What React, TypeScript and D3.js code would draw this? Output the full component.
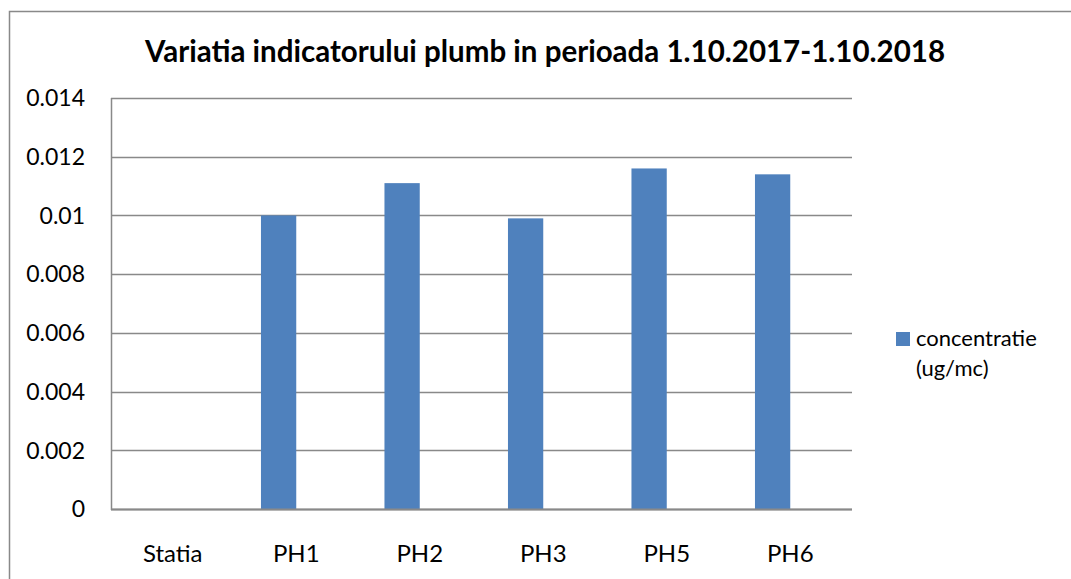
import React from "react";
import * as d3 from "d3";

const categories = ["Statia", "PH1", "PH2", "PH3", "PH5", "PH6"];
const seriesNames = ["concentratie (ug/mc)", "hidden"];
const concentratie: (number | null)[] = [null, 0.01, 0.0111, 0.0099, 0.0116, 0.0114];
const yTicks = [0, 0.002, 0.004, 0.006, 0.008, 0.01, 0.012, 0.014];
const yTickLabels = ["0", "0.002", "0.004", "0.006", "0.008", "0.01", "0.012", "0.014"];
const title = "Variatia indicatorului plumb in perioada 1.10.2017-1.10.2018";
const legendLines = ["concentratie", "(ug/mc)"];

const W = 1071;
const H = 579;
const plot = { left: 111, right: 852, top: 98, bottom: 509 };
const font = "Lato, 'Open Sans', sans-serif";
const barColor = "#4F81BD";
const gridColor = "#898989";

export default function App() {
  const x = d3.scaleBand<string>().domain(categories).range([plot.left, plot.right]).padding(0);
  const xInner = d3
    .scaleBand<string>()
    .domain(seriesNames)
    .range([0, x.bandwidth()])
    .paddingInner(0)
    .paddingOuter(0.75);
  const y = d3.scaleLinear().domain([0, 0.014]).range([plot.bottom, plot.top]);

  return (
    <svg
      width={W}
      height={H}
      style={{ position: "absolute", left: 0, top: 0, background: "#fff" }}
    >
      <rect x={0} y={0} width={W} height={H} fill="#fff" />
      <rect x={9.5} y={11.5} width={1100} height={600} fill="none" stroke={gridColor} strokeWidth={1.5} />
      <text
        x={545}
        y={62}
        textAnchor="middle"
        fontFamily={font}
        fontWeight="bold"
        fontSize={29.5}
        fill="#000"
      >
        {title}
      </text>
      {yTicks.map((t, i) => (
        <g key={i}>
          <line
            x1={plot.left}
            x2={plot.right}
            y1={Math.round(y(t)) + 0.5}
            y2={Math.round(y(t)) + 0.5}
            stroke={gridColor}
            strokeWidth={1.5}
          />
          <text
            x={85}
            y={y(t)}
            dy="0.36em"
            textAnchor="end"
            fontFamily={font}
            fontSize={23}
            fill="#000"
          >
            {yTickLabels[i]}
          </text>
        </g>
      ))}
      <line x1={plot.left + 0.5} x2={plot.left + 0.5} y1={plot.top} y2={plot.bottom + 1} stroke={gridColor} strokeWidth={1.5} />
      {categories.map((c, i) => {
        const v = concentratie[i];
        return (
          <g key={c}>
            {v != null && (
              <rect
                x={(x(c) as number) + (xInner(seriesNames[0]) as number)}
                y={y(v)}
                width={xInner.bandwidth()}
                height={y(0) - y(v)}
                fill={barColor}
              />
            )}
            <text
              x={(x(c) as number) + x.bandwidth() / 2}
              y={562}
              textAnchor="middle"
              fontFamily={font}
              fontSize={24}
              fill="#000"
            >
              {c}
            </text>
          </g>
        );
      })}
      <line x1={plot.left} x2={plot.right} y1={plot.bottom + 0.5} y2={plot.bottom + 0.5} stroke={gridColor} strokeWidth={2} />
      <rect x={896} y={332} width={14} height={14} fill={barColor} />
      {legendLines.map((l, i) => (
        <text key={i} x={916} y={346 + i * 30} fontFamily={font} fontSize={22} fill="#000">
          {l}
        </text>
      ))}
    </svg>
  );
}
